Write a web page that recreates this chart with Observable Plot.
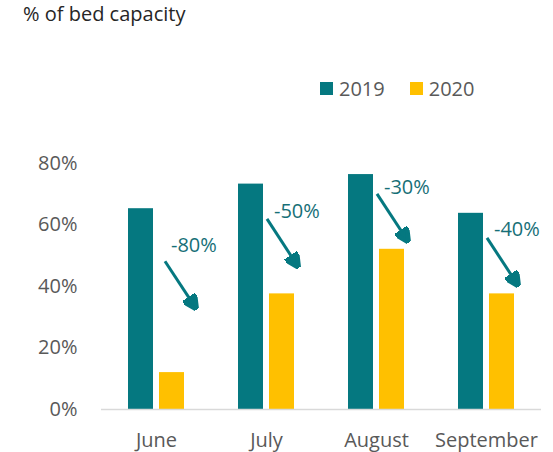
<!DOCTYPE html>
<html><head><meta charset="utf-8">
<script src="https://cdn.jsdelivr.net/npm/d3@7"></script>
<script src="https://cdn.jsdelivr.net/npm/@observablehq/plot@0.6"></script>
<style>
html,body{margin:0;padding:0;background:#fff;}
#wrap{position:relative;width:553px;height:452px;overflow:hidden;font-family:"Open Sans",sans-serif;}
#title{position:absolute;left:23px;top:4px;font-size:20px;line-height:20px;color:#262626;white-space:nowrap;}
#legend{position:absolute;left:320px;top:72px;}
#chart{position:absolute;left:0;top:0;}
.lg-swatches{font-family:"Open Sans",sans-serif !important;font-size:20px !important;color:#595959 !important;margin:0 !important;}
.lg-swatch{margin-right:25px !important;}
.lg-swatch > svg{margin-right:6px !important;}
</style></head><body>
<div id="wrap"><div id="chart"></div><div id="title">% of bed capacity</div><div id="legend"></div></div>
<script>
const months = ["June", "July", "August", "September"];
const years = ["2019", "2020"];
const values2019 = [65.3, 73.3, 76.4, 63.8];
const values2020 = [12, 37.6, 52.1, 37.6];
const yTicks = [0, 20, 40, 60, 80];
const changeLabels = ["-80%", "-50%", "-30%", "-40%"];
const labelY = [53.3, 64.2, 72.3, 58.4];
const arrowFrom = [48.2, 62, 70.1, 55.8];
const arrowTo = [32.9, 46.5, 54.7, 40.4];

const teal = "#057880";
const gold = "#FFC000";

const rows = months.flatMap((m, i) => [
  {month: m, year: years[0], value: values2019[i]},
  {month: m, year: years[1], value: values2020[i]}
]);
const ann = months.map((m, i) => ({month: m, label: changeLabels[i], ty: labelY[i], from: arrowFrom[i], to: arrowTo[i]}));

function headMarker(color) {
  const m = d3.create("svg:marker")
    .attr("viewBox", "0 -5 10 10")
    .attr("markerUnits", "userSpaceOnUse")
    .attr("markerWidth", 15).attr("markerHeight", 15)
    .attr("refX", 9).attr("refY", 0)
    .attr("orient", "auto");
  m.append("path").attr("d", "M0,-5L10,0L0,5Z").attr("fill", color);
  return m.node();
}

const isJune = d => d.month === "June";
const notJune = d => d.month !== "June";

const chart = Plot.plot({
  width: 553,
  height: 452,
  marginLeft: 101,
  marginRight: 12,
  marginTop: 163,
  marginBottom: 43,
  style: {fontFamily: "Open Sans, sans-serif", fontSize: "20px", color: "#595959", background: "transparent"},
  fx: {domain: months, padding: 0, label: null, axis: "bottom", tickSize: 0, tickPadding: 23},
  x: {domain: years, paddingInner: 0.2, paddingOuter: 0.86, axis: null},
  y: {domain: [0, 80], ticks: yTicks, tickFormat: d => d + "%", tickSize: 0, tickPadding: 24, label: null},
  color: {domain: years, range: [teal, gold]},
  marks: [
    Plot.barY(rows, {fx: "month", x: "year", y: "value", fill: "year", inset: 0}),
    Plot.ruleY([0], {stroke: "#d9d9d9", strokeWidth: 1.5}),
    Plot.link(ann, {filter: isJune, fx: "month", x1: () => "2019", x2: () => "2020", y1: "from", y2: "to", stroke: teal, strokeWidth: 3, markerEnd: headMarker, dx: 24}),
    Plot.link(ann, {filter: notJune, fx: "month", x1: () => "2019", x2: () => "2020", y1: "from", y2: "to", stroke: teal, strokeWidth: 3, markerEnd: headMarker, dx: 16}),
    Plot.text(ann, {filter: isJune, fx: "month", x: () => "2020", y: "ty", text: "label", textAnchor: "start", lineAnchor: "middle", fill: "#176f77", fontSize: 20, dx: -1}),
    Plot.text(ann, {filter: notJune, fx: "month", x: () => "2020", y: "ty", text: "label", textAnchor: "start", lineAnchor: "middle", fill: "#176f77", fontSize: 20, dx: -8})
  ]
});
document.getElementById("chart").appendChild(chart);
const lg = chart.legend("color", {className: "lg", swatchSize: 13});
document.getElementById("legend").appendChild(lg);
</script>
</body></html>
